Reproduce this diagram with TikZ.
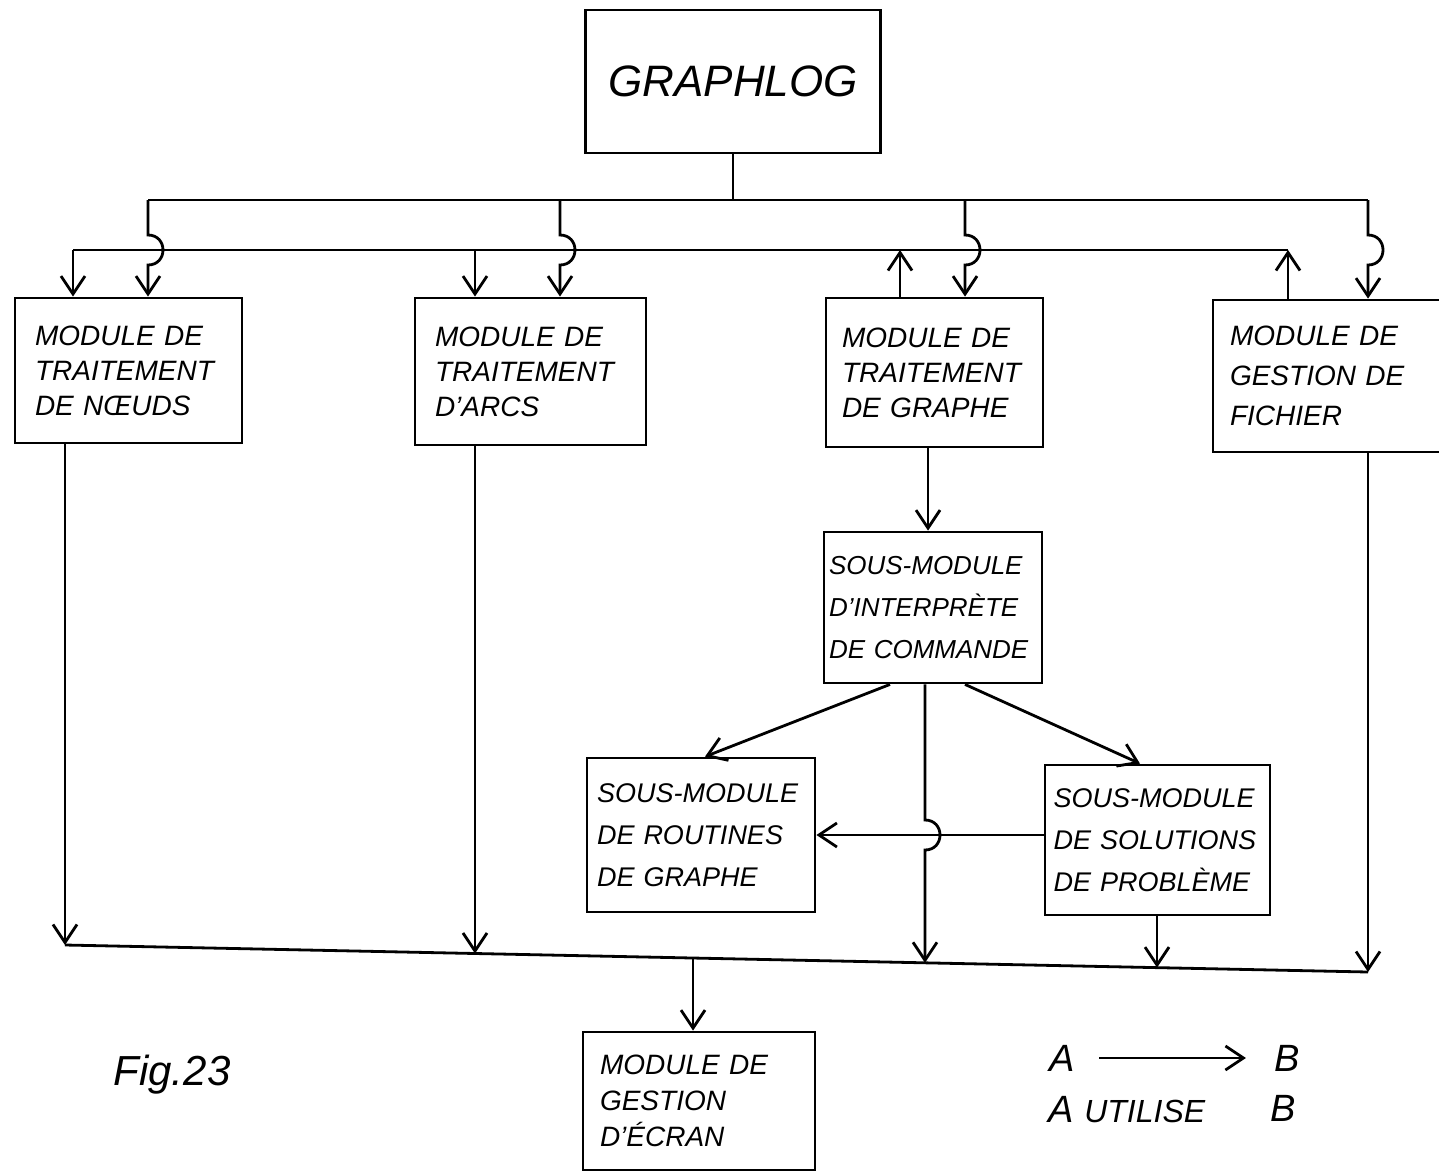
\documentclass[tikz,border=0pt]{standalone}
\usepackage{fontspec}
\setmainfont{Liberation Sans}
\usetikzlibrary{arrows.meta}
\begin{document}
\begin{tikzpicture}[x=0.5pt,y=-0.5pt,
  ln/.style={line width=1.4pt},
  arr/.style={line width=1.4pt,-{Straight Barb[length=9pt,width=12pt,line width=1.4pt]}},
  mod/.style={draw,line width=1.4pt,align=left,inner ysep=0pt,
    font=\itshape\fontsize{14}{17.5}\selectfont},
  smod/.style={mod,font=\itshape\fontsize{13.5}{21}\selectfont},
  lbl/.style={inner sep=3pt,font=\itshape\fontsize{19}{19}\selectfont}]
\useasboundingbox (0,0) rectangle (1439,1172);
\fill[white] (0,0) rectangle (1439,1172);

% boxes
\node[draw,line width=1.4pt,minimum width=147.5pt,minimum height=71.5pt,
  font=\itshape\fontsize{22}{22}\selectfont] (g) at (733,81.5) {GRAPHLOG};
\node[mod,minimum width=113.5pt,minimum height=72.5pt,text width=93.5pt,inner xsep=10pt]
  (m1) at (128.5,370.5) {MODULE DE\\TRAITEMENT\\DE NŒUDS};
\node[mod,minimum width=115.5pt,minimum height=73.5pt,text width=95.5pt,inner xsep=10pt]
  (m2) at (530.5,371.5) {MODULE DE\\TRAITEMENT\\D'ARCS};
\node[mod,minimum width=108.5pt,minimum height=74.5pt,text width=92.5pt,inner xsep=8pt]
  (m3) at (934.5,372.5) {MODULE DE\\TRAITEMENT\\DE GRAPHE};
\node[mod,font=\itshape\fontsize{14}{20}\selectfont,minimum width=115pt,minimum height=76pt,
  text width=98pt,inner xsep=8.5pt]
  (m4) at (1328,376) {MODULE DE\\GESTION DE\\FICHIER};
\node[smod,font=\itshape\fontsize{13}{21}\selectfont,minimum width=109pt,minimum height=75.5pt,
  text width=104pt,inner xsep=2.5pt]
  (si) at (933,607.5) {\mbox{SOUS-MODULE}\\\mbox{D'INTERPRÈTE}\\\mbox{DE COMMANDE}};
\node[smod,minimum width=114pt,minimum height=77pt,text width=104pt,inner xsep=5pt]
  (sr) at (701,835) {\mbox{SOUS-MODULE}\\\mbox{DE ROUTINES}\\\mbox{DE GRAPHE}};
\node[smod,minimum width=112.5pt,minimum height=75pt,text width=104pt,inner xsep=4.25pt]
  (sp) at (1157.5,840) {\mbox{SOUS-MODULE}\\\mbox{DE SOLUTIONS}\\\mbox{DE PROBLÈME}};
\node[mod,font=\itshape\fontsize{14}{18}\selectfont,minimum width=116pt,minimum height=69pt,
  text width=99pt,inner xsep=8.5pt]
  (me) at (699,1101) {MODULE DE\\GESTION\\D'ÉCRAN};

% top bus
\coordinate (tbL) at (148,200);
\coordinate (tbR) at (1368,200);
\coordinate (t2) at (560,200);
\coordinate (t3) at (965,200);
\draw[ln] (g.south) -- (g.south |- tbL);
\draw[ln] (tbL) -- (tbR);

% second bus
\coordinate (sbL) at (73,250);
\coordinate (sb2) at (475,250);
\coordinate (sb3) at (900,250);
\coordinate (sbR) at (1288,250);
\draw[ln] (sbL) -- (sbR);
\draw[arr] (sbL) -- (m1.north -| sbL);
\draw[arr] (sb2) -- (m2.north -| sb2);
\draw[arr] (m3.north -| sb3) -- (sb3);
\draw[arr] (m4.north -| sbR) -- (sbR);

% drops from top bus with hops over second bus
\draw[arr] (tbL) -- (148,235) .. controls +(20,0) and +(20,0) .. (148,265) -- (m1.north -| tbL);
\draw[arr] (t2) -- (560,235) .. controls +(20,0) and +(20,0) .. (560,265) -- (m2.north -| t2);
\draw[arr] (t3) -- (965,235) .. controls +(20,0) and +(20,0) .. (965,265) -- (m3.north -| t3);
\draw[arr] (tbR) -- (1368,235) .. controls +(20,0) and +(20,0) .. (1368,265) -- (m4.north -| tbR);

% graph module to interpreter
\coordinate (c3) at (928,0);
\draw[arr] (m3.south -| c3) -- (si.north -| c3);

% interpreter to sub-modules
\draw[arr] ([xshift=-21.5pt]si.south) -- ([xshift=2pt]sr.north);
\draw[arr] ([xshift=16pt]si.south) -- ([xshift=-8.75pt]sp.north);
\draw[arr] (sp.west |- sr.east) -- (sr.east);

% bottom bus
\coordinate (bbL) at (65,945);
\coordinate (bbR) at (1368,972);
\coordinate (b2) at (475,953.5);
\coordinate (be) at (693,958);
\coordinate (b5) at (925,962.8);
\coordinate (b7) at (1157,967.6);
\draw[ln] (bbL) -- (bbR);
\draw[arr] (m1.south -| bbL) -- (bbL);
\draw[arr] (m2.south -| b2) -- (b2);
\draw[arr] (si.south -| b5) -- (925,820) .. controls +(20,0) and +(20,0) .. (925,850) -- (b5);
\draw[arr] (sp.south -| b7) -- (b7);
\draw[arr] (m4.south -| bbR) -- (bbR);
\draw[arr] (be) -- (me.north -| be);

% legend
\node[lbl] (la) at (1062,1058) {A};
\node[lbl] (lb) at (1287,1058) {B};
\draw[arr,shorten <=9pt,shorten >=11pt] (la) -- (lb);
\node[lbl,anchor=west] (lu) at (1042,1110) {A {\fontsize{16}{16}\selectfont UTILISE}};
\node[lbl] (lb2) at (1283,1108) {B};

\node[font=\itshape\fontsize{21}{21}\selectfont] (fig) at (172,1075) {Fig.23};
\end{tikzpicture}
\end{document}
